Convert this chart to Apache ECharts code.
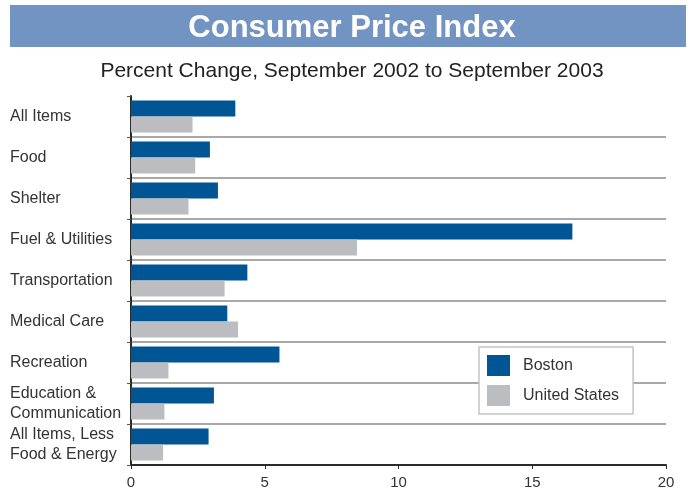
<!DOCTYPE html>
<html>
<head>
<meta charset="utf-8">
<script src="https://cdn.jsdelivr.net/npm/echarts@6/dist/echarts.min.js"></script>
<style>
html,body{margin:0;padding:0;background:#fff;}
#container1{width:692px;height:496px;}
</style>
</head>
<body>
<div id="container1"></div>
<script>
var categories = ['All Items', 'Food', 'Shelter', 'Fuel & Utilities', 'Transportation', 'Medical Care', 'Recreation', 'Education &\nCommunication', 'All Items, Less\nFood & Energy'];
var boston = [3.9, 2.95, 3.25, 16.5, 4.35, 3.6, 5.55, 3.1, 2.9];
var unitedStates = [2.3, 2.4, 2.15, 8.45, 3.5, 4.0, 1.4, 1.25, 1.2];
var xTicks = [0, 5, 10, 15, 20];

var dom1 = document.getElementById('container1');
var myChart1 = echarts.init(dom1, null, {renderer: 'canvas'});
var font = '"Liberation Sans", Arial, sans-serif';

var option1 = {
    animation: false,
    backgroundColor: '#fff',
    graphic: [
        {
            type: 'rect',
            shape: {x: 10, y: 5, width: 676, height: 42},
            style: {fill: '#7294c3'},
            z: 0
        }
    ],
    title: [
        {
            text: 'Consumer Price Index',
            left: 347,
            textAlign: 'center',
            top: 8,
            textStyle: {color: '#fff', fontSize: 31, fontWeight: 'bold', fontFamily: font}
        },
        {
            text: 'Percent Change, September 2002 to September 2003',
            left: 347,
            textAlign: 'center',
            top: 56,
            textStyle: {color: '#222', fontSize: 21, fontWeight: 'normal', fontFamily: font}
        }
    ],
    legend: {
        orient: 'vertical',
        left: 479,
        top: 347,
        padding: [8, 14, 8, 8],
        itemWidth: 23,
        itemHeight: 21,
        itemGap: 9,
        icon: 'rect',
        backgroundColor: '#fff',
        borderColor: '#c4c4c4',
        borderWidth: 1.5,
        borderRadius: 0,
        textStyle: {fontSize: 16, color: '#333', fontFamily: font, padding: [0, 0, 0, 8]},
        data: ['Boston', 'United States']
    },
    grid: {
        left: 131,
        right: 26,
        top: 96,
        bottom: 31
    },
    xAxis: {
        type: 'value',
        min: 0,
        max: 20,
        interval: 5,
        axisLine: {show: true, onZero: false, lineStyle: {color: '#2a2a2a', width: 2}},
        axisTick: {show: true, length: 4, lineStyle: {color: '#2a2a2a'}},
        axisLabel: {
            color: '#333',
            fontSize: 15,
            fontFamily: font,
            margin: 10,
            formatter: function (v) { return xTicks.indexOf(v) >= 0 ? String(v) : ''; }
        },
        splitLine: {show: false}
    },
    yAxis: {
        type: 'category',
        inverse: true,
        data: categories,
        axisLine: {show: true, lineStyle: {color: '#2a2a2a', width: 2}},
        axisTick: {show: true, length: 4, lineStyle: {color: '#555'}},
        axisLabel: {
            interval: 0,
            hideOverlap: false,
            color: '#333',
            fontSize: 16,
            fontFamily: font,
            align: 'left',
            margin: 121,
            lineHeight: 20
        },
        splitLine: {
            show: true,
            showMinLine: false,
            showMaxLine: false,
            lineStyle: {color: '#a8a8a8', width: 2}
        }
    },
    series: [
        {
            name: 'Boston',
            type: 'bar',
            data: boston,
            barWidth: 16,
            barGap: '0%',
            itemStyle: {color: '#005594'}
        },
        {
            name: 'United States',
            type: 'bar',
            data: unitedStates,
            barWidth: 16,
            barGap: '0%',
            itemStyle: {color: '#bcbdc0'}
        }
    ]
};
myChart1.setOption(option1);
</script>
</body>
</html>
